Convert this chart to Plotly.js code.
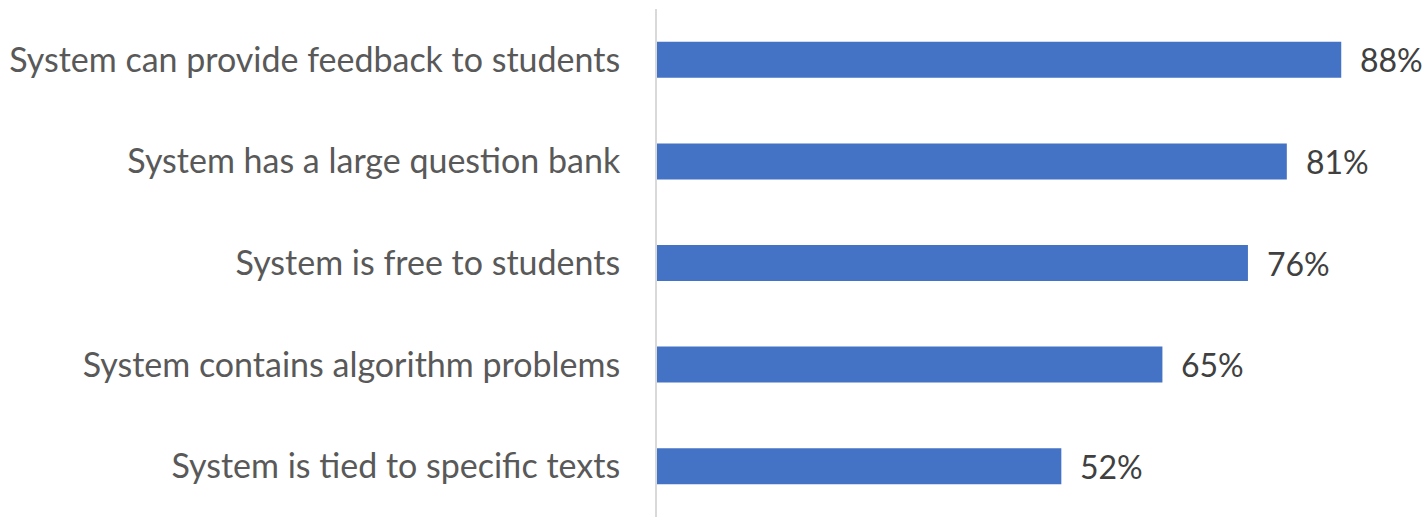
<!DOCTYPE html>
<html>
<head>
<meta charset="utf-8">
<script src="https://cdn.plot.ly/plotly-3.0.1.min.js"></script>
<style>html,body{margin:0;padding:0;background:#fff;}#chart{width:1428px;height:517px;}</style>
</head>
<body>
<div id="chart"></div>
<script>
const categories = [
  "System is tied to specific texts",
  "System contains algorithm problems",
  "System is free to students",
  "System has a large question bank",
  "System can provide feedback to students"
];
const values = [52, 65, 76, 81, 88];
const valueLabels = ["52%", "65%", "76%", "81%", "88%"];

const trace = {
  type: "bar",
  orientation: "h",
  y: categories,
  x: values,
  marker: {color: "#4472C4"},
  hoverinfo: "none"
};

const annotations = values.map((v, i) => ({
  x: v, y: categories[i], xref: "x", yref: "y",
  text: valueLabels[i], showarrow: false,
  xanchor: "left", yanchor: "middle", xshift: 17,
  font: {family: "Lato, 'Open Sans', sans-serif", size: 32, color: "#404040"}
}));

const layout = {
  width: 1428, height: 517,
  margin: {l: 657, r: 9, t: 9, b: 0},
  paper_bgcolor: "#ffffff", plot_bgcolor: "#ffffff",
  showlegend: false,
  bargap: 0.646,
  xaxis: {range: [0, 98], showgrid: false, zeroline: false, showticklabels: false, showline: false, fixedrange: true},
  yaxis: {
    showline: true, linecolor: "#d9d9d9", linewidth: 2,
    ticks: "", showgrid: false, zeroline: false,
    ticklabelstandoff: 28,
    tickfont: {family: "Lato, 'Open Sans', sans-serif", size: 34, color: "#595959"},
    fixedrange: true
  },
  annotations: annotations
};

Plotly.newPlot("chart", [trace], layout, {displayModeBar: false, staticPlot: true});
</script>
</body>
</html>
